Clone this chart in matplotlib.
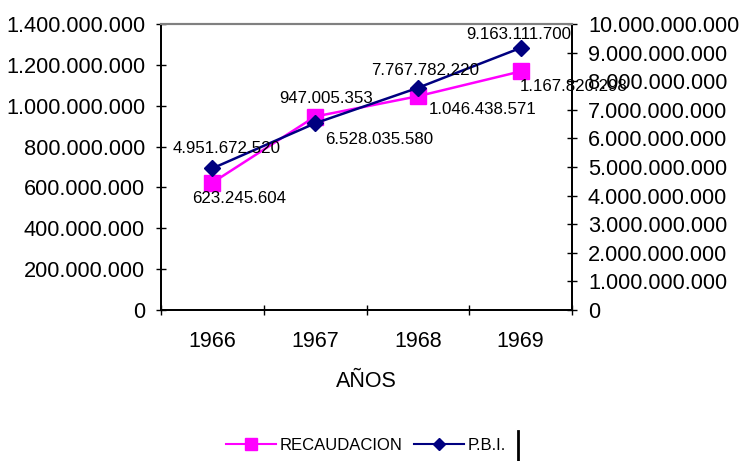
import matplotlib
matplotlib.use("Agg")
import matplotlib.pyplot as plt
from matplotlib.lines import Line2D

plt.rcParams['font.family'] = ['Liberation Sans', 'DejaVu Sans']

years = ["1966", "1967", "1968", "1969"]
recaudacion = [623245604, 947005353, 1046438571, 1167820298]
pbi = [4951672520, 6528035580, 7767782220, 9163111700]
rec_labels = ["623.245.604", "947.005.353", "1.046.438.571", "1.167.820.298"]
pbi_labels = ["4.951.672.520", "6.528.035.580", "7.767.782.220", "9.163.111.700"]
left_ticks = [0, 200e6, 400e6, 600e6, 800e6, 1000e6, 1200e6, 1400e6]
left_tick_labels = ["0", "200.000.000", "400.000.000", "600.000.000", "800.000.000",
                    "1.000.000.000", "1.200.000.000", "1.400.000.000"]
right_ticks = [i * 1e9 for i in range(11)]
right_tick_labels = ["0", "1.000.000.000", "2.000.000.000", "3.000.000.000", "4.000.000.000",
                     "5.000.000.000", "6.000.000.000", "7.000.000.000", "8.000.000.000",
                     "9.000.000.000", "10.000.000.000"]

W, H = 740, 461
fig = plt.figure(figsize=(W / 100, H / 100), dpi=100)
L, R, T, B = 161, 572, 24, 310
ax = fig.add_axes([L / W, 1 - B / H, (R - L) / W, (B - T) / H])
ax2 = ax.twinx()

MAG = "#FF00FF"
NAVY = "#000080"
x = list(range(len(years)))

ax.plot(x, recaudacion, color=MAG, lw=1.8, marker="s", ms=11, mec=MAG, mfc=MAG, zorder=3)
ax2.plot(x, pbi, color=NAVY, lw=1.8, marker="D", ms=8, mec=NAVY, mfc=NAVY, zorder=3)

ax.set_xlim(-0.5, len(years) - 0.5)
ax.set_ylim(0, 1400e6)
ax2.set_ylim(0, 10e9)

ax.set_xticks([i - 0.5 for i in range(len(years) + 1)])
ax.set_xticklabels([])
ax.set_xticks(x, minor=True)
ax.set_xticklabels(years, minor=True, fontsize=15.5)
ax.tick_params(axis="x", which="major", direction="inout", length=7, width=1, color="black")
ax.tick_params(axis="x", which="minor", length=0, pad=15)

ax.set_yticks(left_ticks)
ax.set_yticklabels(left_tick_labels, fontsize=15.7)
ax.tick_params(axis="y", direction="inout", length=7, width=1, pad=8)
ax2.set_yticks(right_ticks)
ax2.set_yticklabels(right_tick_labels, fontsize=15.7)
ax2.tick_params(axis="y", direction="inout", length=7, width=1, pad=8)

for a in (ax, ax2):
    for s in ("left", "right", "bottom"):
        a.spines[s].set_color("black")
        a.spines[s].set_linewidth(1.3)
    a.spines["top"].set_color("#808080")
    a.spines["top"].set_linewidth(1.5)

ax.set_xlabel("AÑOS", fontsize=15.5, labelpad=14)

# data labels: offsets in pixels
pbi_off = [(14, 20, "center"), (10, -16, "left"), (7, 17, "center"), (-2, 13, "center")]
rec_off = [(27, -16, "center"), (11, 18, "center"), (11, -13, "left"), (-1, -15, "left")]
for i in x:
    dx, dy, ha = pbi_off[i]
    ax2.annotate(pbi_labels[i], (i, pbi[i]), xytext=(dx, dy), textcoords="offset pixels",
                 ha=ha, va="center", fontsize=12.2, zorder=5)
    dx, dy, ha = rec_off[i]
    ax.annotate(rec_labels[i], (i, recaudacion[i]), xytext=(dx, dy), textcoords="offset pixels",
                ha=ha, va="center", fontsize=12.2, zorder=5, annotation_clip=False)

handles = [Line2D([], [], color=MAG, lw=1.5, marker="s", ms=9),
           Line2D([], [], color=NAVY, lw=1.5, marker="D", ms=6)]
fig.legend(handles, ["RECAUDACION", "P.B.I."], loc="center", bbox_to_anchor=(366 / W, 1 - 445 / H),
           ncol=2, frameon=False, fontsize=12, handlelength=3.0, handletextpad=0.2,
           columnspacing=0.7)
fig.add_artist(Line2D([518 / W, 518 / W], [1 - 431 / H, 1 - 460 / H], color="black", lw=2,
                      transform=fig.transFigure))

fig.savefig("out.png", dpi=100)
